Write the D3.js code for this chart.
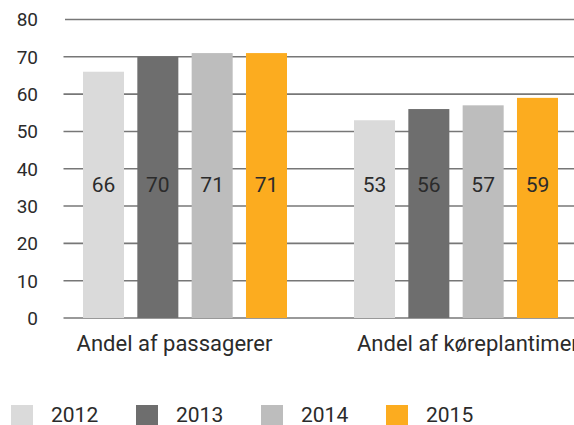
<!DOCTYPE html>
<html><head><meta charset="utf-8">
<script src="https://cdn.jsdelivr.net/npm/d3@7"></script>
<style>body{margin:0;background:#fff}svg{display:block}text{font-family:Roboto,sans-serif;fill:#2b2b2b}</style>
</head><body>
<svg id="c" width="574" height="425"></svg>
<script>
const categories = ["Andel af passagerer", "Andel af køreplantimer"];
const years = ["2012", "2013", "2014", "2015"];
const values2012 = [66, 53];
const values2013 = [70, 56];
const values2014 = [71, 57];
const values2015 = [71, 59];
const yTicks = [0, 10, 20, 30, 40, 50, 60, 70, 80];
const colors = ["#dadada", "#6e6e6e", "#bdbdbd", "#fcac1f"];

const series = [values2012, values2013, values2014, values2015];
const svg = d3.select("#c");
const y = d3.scaleLinear().domain([0, 80]).range([318, 19.5]);
const x0 = d3.scaleBand().domain(categories).range([49.5, 591.5]);
const x1 = d3.scaleBand().domain(years).range([-102, 102]).paddingInner(0.245);

svg.append("g").selectAll("line").data(yTicks).join("line")
  .attr("x1", d => d === 80 ? 65 : 63.5).attr("x2", 574)
  .attr("y1", d => y(d)).attr("y2", d => y(d))
  .attr("stroke", "#777").attr("stroke-width", 1.6);

svg.append("g").selectAll("text").data(yTicks).join("text")
  .attr("x", 38).attr("y", d => y(d)).attr("dy", "0.36em")
  .attr("text-anchor", "end").attr("font-size", 19).text(d => d);

const g = svg.append("g").selectAll("g").data(categories).join("g")
  .attr("transform", c => `translate(${x0(c) + x0.bandwidth() / 2},0)`);
g.each(function(c, ci) {
  const sel = d3.select(this);
  years.forEach((yr, yi) => {
    const v = series[yi][ci];
    sel.append("rect").attr("x", x1(yr)).attr("width", x1.bandwidth())
      .attr("y", y(v)).attr("height", y(0) - y(v)).attr("fill", colors[yi]);
    sel.append("text").attr("x", x1(yr) + x1.bandwidth() / 2).attr("y", 192.3)
      .attr("text-anchor", "middle").attr("font-size", 21).text(v);
  });
});

svg.append("g").selectAll("text").data(categories).join("text")
  .attr("x", (d, i) => i === 0 ? x0(d) + x0.bandwidth() / 2 - 10.5 : x0(d) + x0.bandwidth() / 2 - 99)
  .attr("y", 351).attr("text-anchor", (d, i) => i === 0 ? "middle" : "start")
  .attr("font-size", 22).text(d => d);

const lg = svg.append("g").selectAll("g").data(years).join("g")
  .attr("transform", (d, i) => `translate(${11 + i * 125},0)`);
lg.append("rect").attr("y", 405).attr("width", 22).attr("height", 20).attr("fill", (d, i) => colors[i]);
lg.append("text").attr("x", 40).attr("y", 422.3).attr("font-size", 21).text(d => d);
</script>
</body></html>
